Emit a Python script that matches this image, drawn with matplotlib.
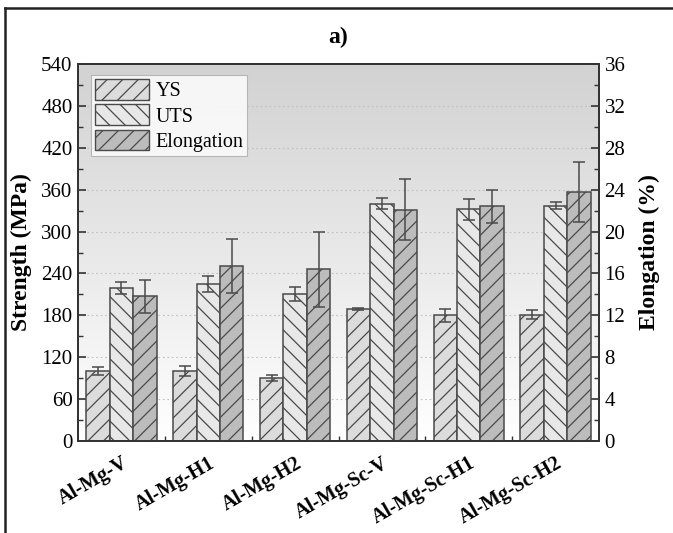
import numpy as np
import matplotlib
matplotlib.use("Agg")
import matplotlib.pyplot as plt
from matplotlib.lines import Line2D
from matplotlib.patches import Patch

# higher dpi so the hatch spacing comes out like the original
DPI = 140
S = 100 / DPI

plt.rcParams['font.family'] = ['Liberation Serif', 'DejaVu Serif']
plt.rcParams['hatch.color'] = '#6e6e6e'
plt.rcParams['hatch.linewidth'] = 0.9 * S

# data
alloys = ["Al-Mg-V", "Al-Mg-H1", "Al-Mg-H2", "Al-Mg-Sc-V", "Al-Mg-Sc-H1", "Al-Mg-Sc-H2"]
ys = [100, 100, 90, 189, 180, 181]
ys_err = [6, 7, 4.5, 1.5, 9, 6.5]
uts = [219, 225, 210, 340, 332, 337]
uts_err = [9, 12, 10, 8, 15, 5]
elong = [13.8, 16.7, 16.4, 22.1, 22.4, 23.8]
elong_err = [1.55, 2.55, 3.6, 2.9, 1.6, 2.85]

x = np.arange(len(alloys))
w = 0.27
h_fw = '///'
h_bk = '\\\\\\'

fig = plt.figure(figsize=(673 / DPI, 533 / DPI), dpi=DPI)
ax = fig.add_axes([78/673, 1 - 441/533, (599-78)/673, (441-64)/533])
ax2 = ax.twinx()

# gradient background
grad = np.linspace(0, 1, 256).reshape(-1, 1)
ax.imshow(grad, cmap=plt.cm.colors.LinearSegmentedColormap.from_list("bg", ["#ffffff", "#d2d2d2"]),
          extent=[0, 1, 0, 1], transform=ax.transAxes, aspect='auto', origin='lower', zorder=0)

for yv in range(60, 540, 60):
    ax.axhline(yv, color='#c0c0c0', lw=0.8 * S, ls=(0, (1.5, 2.5)), zorder=0.5)

ekw = dict(ecolor='#4a4a4a', elinewidth=1.1 * S, capsize=4 * S, capthick=1.1 * S)
ax.bar(x - w, ys, w, yerr=ys_err, color='#dcdcdc', edgecolor='#4a4a4a', hatch=h_fw,
       lw=1.1 * S, error_kw=ekw, zorder=2)
ax.bar(x, uts, w, yerr=uts_err, color='#e8e8e8', edgecolor='#4a4a4a', hatch=h_bk,
       lw=1.1 * S, error_kw=ekw, zorder=2)
ax2.bar(x + w, elong, w, yerr=elong_err, color='#bcbcbc', edgecolor='#4a4a4a', hatch=h_fw,
        lw=1.1 * S, error_kw=ekw, zorder=2)

ax.set_xlim(-0.5, 5.5)
ax.set_ylim(0, 540)
ax2.set_ylim(0, 36)
ax.set_yticks(range(0, 541, 60))
ax.set_yticks(range(30, 540, 60), minor=True)
ax2.set_yticks(range(0, 37, 4))
ax2.set_yticks(range(2, 36, 4), minor=True)
ax.set_xticks(x)
ax.set_xticks(np.arange(0.5, 5, 1), minor=True)
ax.set_xticklabels(alloys, rotation=30, ha='right', rotation_mode='anchor',
                   fontweight='bold', fontsize=14.5 * S)

ax.tick_params(axis='both', which='both', direction='in', labelsize=15 * S, color='#333333')
ax.tick_params(axis='both', which='major', length=6 * S, width=1.2 * S)
ax.tick_params(axis='both', which='minor', length=3.5 * S, width=1.0 * S)
ax.tick_params(axis='x', pad=9 * S)
ax.tick_params(axis='y', pad=4 * S)
ax2.tick_params(axis='y', which='both', direction='in', labelsize=15 * S, color='#333333', pad=4 * S)
ax2.tick_params(axis='y', which='major', length=6 * S, width=1.2 * S)
ax2.tick_params(axis='y', which='minor', length=3.5 * S, width=1.0 * S)
for lab in ax.get_xticklabels():
    lab.set_fontsize(14.5 * S)

for a in (ax, ax2):
    for s in a.spines.values():
        s.set_linewidth(1.3 * S)
        s.set_color('#333333')

ax.set_ylabel("Strength (MPa)", fontweight='bold', fontsize=17 * S)
ax2.set_ylabel("Elongation (%)", fontweight='bold', fontsize=17 * S)
ax.yaxis.set_label_coords(-46 / 521, 0.5)
ax2.yaxis.set_label_coords(1 + 40 / 521, 0.5)
ax.set_title("a)", fontweight='bold', fontsize=17 * S, pad=15 * S)

handles = [Patch(facecolor='#dcdcdc', edgecolor='#4a4a4a', hatch=h_fw, lw=1.0 * S),
           Patch(facecolor='#e8e8e8', edgecolor='#4a4a4a', hatch=h_bk, lw=1.0 * S),
           Patch(facecolor='#bcbcbc', edgecolor='#4a4a4a', hatch=h_fw, lw=1.0 * S)]
leg = ax2.legend(handles, ["YS", "UTS", "Elongation"], loc='upper left',
                 bbox_to_anchor=(0.025, 0.97), fontsize=14.5 * S, frameon=True, fancybox=False,
                 edgecolor='#aaaaaa', handlelength=2.7, handleheight=1.2,
                 handletextpad=0.3, labelspacing=0.15, borderpad=0.2, borderaxespad=0)
leg.get_frame().set_linewidth(0.8 * S)

# outer frame
fig.add_artist(Line2D([5/673, 5/673], [0, 1 - 8/533], color='#222222', lw=1.8 * S))
fig.add_artist(Line2D([5/673, 1], [1 - 8/533, 1 - 8/533], color='#222222', lw=1.8 * S))

fig.savefig("out.png", dpi=DPI)
